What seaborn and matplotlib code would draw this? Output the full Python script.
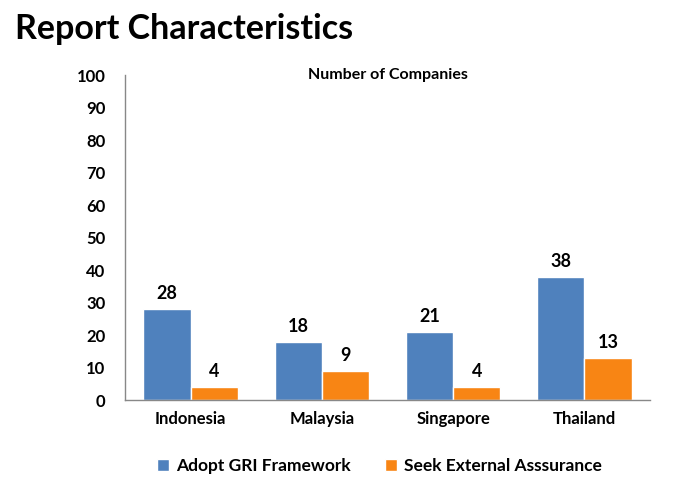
import pandas as pd
import matplotlib.pyplot as plt
import seaborn as sns

countries = ["Indonesia", "Malaysia", "Singapore", "Thailand"]
adopt_gri = [28, 18, 21, 38]
seek_assurance = [4, 9, 4, 13]
series_names = ["Adopt GRI Framework", "Seek External Asssurance"]
yticks = [0, 10, 20, 30, 40, 50, 60, 70, 80, 90, 100]

df = pd.DataFrame({
    "Country": countries * 2,
    "Series": [series_names[0]] * 4 + [series_names[1]] * 4,
    "Count": adopt_gri + seek_assurance,
})

sns.set_style("white")
plt.rcParams["font.family"] = ["Lato", "DejaVu Sans"]
plt.rcParams["text.color"] = "black"
plt.rcParams["xtick.color"] = "black"
plt.rcParams["ytick.color"] = "black"

fig = plt.figure(figsize=(6.75, 4.91), dpi=100)
ax = fig.add_axes([0.185, 0.185, 0.778, 0.662])

sns.barplot(data=df, x="Country", y="Count", hue="Series",
            palette=["#4F81BD", "#F88514"], width=0.72, saturation=1,
            ax=ax, legend=True)

for cont in ax.containers:
    ax.bar_label(cont, padding=5, fontsize=13, fontweight="bold")

ax.set_ylim(0, 100)
ax.set_yticks(yticks)
ax.set_xlim(-0.5, 3.5)
ax.set_xlabel("")
ax.set_ylabel("")
ax.tick_params(axis="both", length=0, labelsize=12, pad=14)
for lab in ax.get_xticklabels() + ax.get_yticklabels():
    lab.set_fontweight("bold")
ax.tick_params(axis="x", pad=8)

for s in ["top", "right"]:
    ax.spines[s].set_visible(False)
for s in ["left", "bottom"]:
    ax.spines[s].set_color("#888888")
    ax.spines[s].set_linewidth(1)

ax.text(0.5, 1.0, "Number of Companies", transform=ax.transAxes,
        ha="center", va="center", fontsize=11.5, fontweight="bold")

fig.text(0.022, 0.94, "Report Characteristics", ha="left", va="center",
         fontsize=24.5, fontweight="bold")

leg = ax.legend(loc="upper center", bbox_to_anchor=(0.485, -0.13), ncol=2,
                frameon=False, handlelength=0.7, handleheight=0.7,
                handletextpad=0.4, columnspacing=2.0,
                prop={"size": 12.5, "weight": "bold"})

fig.savefig("out.png", dpi=100)
